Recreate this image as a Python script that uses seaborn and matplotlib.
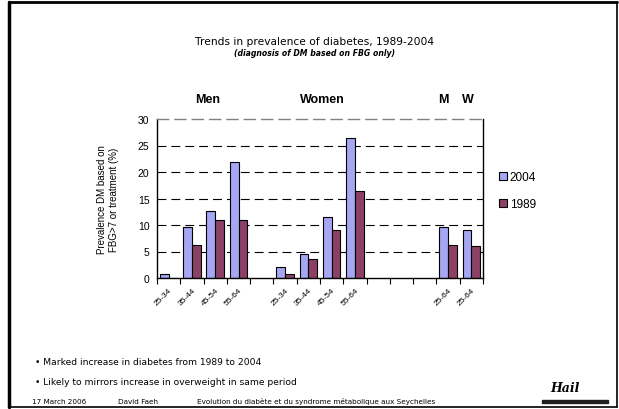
import matplotlib
matplotlib.use("Agg")
import matplotlib.pyplot as plt
from matplotlib.lines import Line2D
from matplotlib.patches import Rectangle
import seaborn as sns
import pandas as pd
import numpy as np

# ---- data ----
men_ages = ["25-34", "35-44", "45-54", "55-64"]
men_2004 = [0.75, 9.7, 12.6, 21.9]
men_1989 = [0.0, 6.2, 11.0, 11.0]
women_ages = ["25-34", "35-44", "45-54", "55-64"]
women_2004 = [2.0, 4.5, 11.6, 26.4]
women_1989 = [0.8, 3.5, 9.0, 16.5]
total_groups = ["M", "W"]
total_ages = ["25-64", "25-64"]
total_2004 = [9.6, 9.05]
total_1989 = [6.3, 6.1]
years = ["2004", "1989"]
colors = ["#9999FF", "#993366"]

# ---- build table ----
rows = []
order = []
ticklabels = []
for a, v4, v8 in zip(men_ages, men_2004, men_1989):
    key = "Men " + a
    order.append(key); ticklabels.append(a)
    rows.append((key, "2004", v4)); rows.append((key, "1989", v8))
order.append("gap1"); ticklabels.append("")
for a, v4, v8 in zip(women_ages, women_2004, women_1989):
    key = "Women " + a
    order.append(key); ticklabels.append(a)
    rows.append((key, "2004", v4)); rows.append((key, "1989", v8))
for g in ["gap2", "gap3", "gap4"]:
    order.append(g); ticklabels.append("")
for g, a, v4, v8 in zip(total_groups, total_ages, total_2004, total_1989):
    key = g + " " + a
    order.append(key); ticklabels.append(a)
    rows.append((key, "2004", v4)); rows.append((key, "1989", v8))
df = pd.DataFrame(rows, columns=["slot", "year", "value"])

sns.set_style("white")
plt.rcParams["font.family"] = ["Liberation Sans", "DejaVu Sans"]
for k in ["text.color", "axes.labelcolor", "xtick.color", "ytick.color", "axes.edgecolor"]:
    plt.rcParams[k] = "black"

fig = plt.figure(figsize=(6.19, 4.10), dpi=100)
ax = fig.add_axes([157/619, 1-279/410, 326/619, 159/410])

sns.barplot(data=df, x="slot", y="value", hue="year", order=order,
            hue_order=years, palette=colors, width=0.76,
            edgecolor="black", linewidth=0.8, ax=ax, legend=True)

ax.set_ylim(0, 30)
ax.set_xlim(-0.5, len(order) - 0.5)
ax.set_yticks(np.arange(0, 31, 5))
ax.tick_params(axis="y", labelsize=7.5, direction="inout", length=7, width=0.8, pad=2)
ax.yaxis.grid(True, color="black", linestyle=(0, (8, 4.5)), linewidth=0.8)
ax.get_ygridlines()[-1].set_visible(False)
ax.get_ygridlines()[0].set_visible(False)
ax.set_axisbelow(True)

ax.set_xticks(range(len(order)))
ax.set_xticklabels(ticklabels, rotation=45, ha="right", rotation_mode="anchor", fontsize=6)
ax.tick_params(axis="x", which="major", length=0, pad=6)
ax.set_xticks(np.arange(-0.5, len(order), 1.0), minor=True)
ax.tick_params(axis="x", which="minor", length=4, width=0.8, direction="out", color="black")
ax.xaxis.set_tick_params(which="minor", bottom=True)

for s in ["left", "right", "bottom"]:
    ax.spines[s].set_color("black")
    ax.spines[s].set_linewidth(1.0)
ax.spines["top"].set_color("#808080")
ax.spines["top"].set_linestyle((0, (8, 4.5)))
ax.spines["top"].set_linewidth(1.0)
ax.set_xlabel("")
ax.set_ylabel("")

leg = ax.legend(loc="upper left", bbox_to_anchor=(1.035, 0.70), frameon=False,
                fontsize=8.5, handlelength=0.7, handleheight=0.7,
                handletextpad=0.2, labelspacing=1.25, borderaxespad=0)

fig.text(108/619, 1-200/410, "Prevalence DM based on\nFBG>7 or treatment (%)",
         rotation=90, ha="center", va="center", fontsize=7, linespacing=1.35)

# group labels
fig.text(208/619, 1-100/410, "Men", ha="center", va="center", fontsize=9, fontweight="bold")
fig.text(322/619, 1-100/410, "Women", ha="center", va="center", fontsize=9, fontweight="bold")
fig.text(443/619, 1-100/410, "M", ha="center", va="center", fontsize=9, fontweight="bold")
fig.text(468/619, 1-100/410, "W", ha="center", va="center", fontsize=9, fontweight="bold")

# titles
fig.text(315/619, 1-42/410, "Trends in prevalence of diabetes, 1989-2004",
         ha="center", va="center", fontsize=7.7, family="DejaVu Sans")
fig.text(315/619, 1-54/410, "(diagnosis of DM based on FBG only)",
         ha="center", va="center", fontsize=5.6, family="DejaVu Sans",
         fontweight="bold", style="italic")

# bullets
fig.text(35/619, 1-363/410, "\u2022 Marked increase in diabetes from 1989 to 2004",
         ha="left", va="center", fontsize=6.6, family="DejaVu Sans")
fig.text(35/619, 1-383/410, "\u2022 Likely to mirrors increase in overweight in same period",
         ha="left", va="center", fontsize=6.6, family="DejaVu Sans")

# footer
fig.text(32/619, 1-402/410, "17 March 2006", ha="left", va="center", fontsize=5.2, family="DejaVu Sans")
fig.text(118/619, 1-402/410, "David Faeh", ha="left", va="center", fontsize=5.2, family="DejaVu Sans")
fig.text(197/619, 1-402/410, "Evolution du diabète et du syndrome métabolique aux Seychelles",
         ha="left", va="center", fontsize=5.2, family="DejaVu Sans")

# logo approximation
fig.add_artist(Rectangle((542/619, 1-404/410), 66/619, 3/410,
                         transform=fig.transFigure, color="#202020"))
fig.text(565/619, 1-389/410, "Hail", ha="center", va="center", fontsize=9,
         style="italic", fontweight="bold", family="DejaVu Serif")

# slide border
fig.add_artist(Line2D([9/619, 9/619], [0.005, 1-3/410], transform=fig.transFigure, color="black", lw=2.5))
fig.add_artist(Line2D([9/619, 617/619], [1-3/410, 1-3/410], transform=fig.transFigure, color="black", lw=2.0))
fig.add_artist(Line2D([617/619, 617/619], [0.005, 1-3/410], transform=fig.transFigure, color="black", lw=1.2))
fig.add_artist(Line2D([9/619, 617/619], [1-408/410, 1-408/410], transform=fig.transFigure, color="black", lw=1.2))

fig.savefig("out.png", dpi=100)
